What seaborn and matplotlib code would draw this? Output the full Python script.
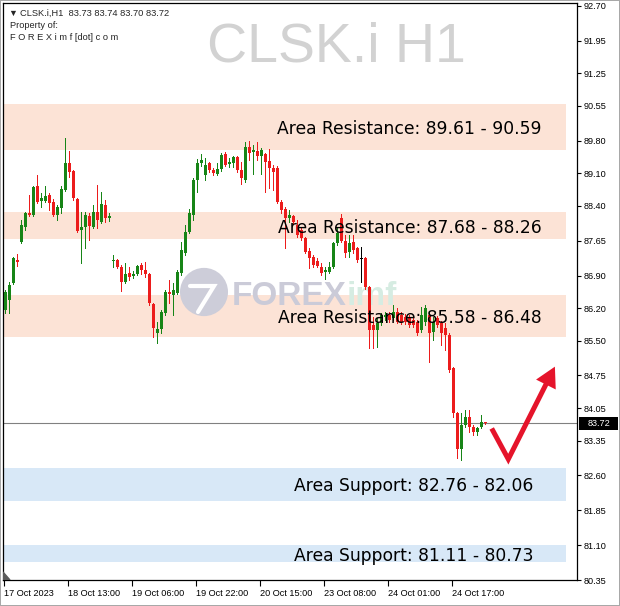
#!/usr/bin/env python3

import matplotlib

matplotlib.use("Agg")
import matplotlib.pyplot as plt
import matplotlib.transforms as mtransforms
import pandas
import seaborn as sns
from matplotlib.patches import Circle, Rectangle

symbol = "CLSK.i"
timeframe = "H1"
last_bar = [83.73, 83.74, 83.70, 83.72]
bid = 83.72

# hourly candles, oldest first
opens = [
    86.16, 86.37, 86.74, 87.24, 87.62, 87.95, 88.25, 88.20, 88.83, 88.51,
    88.51, 88.63, 88.48, 88.20, 88.35, 88.74, 89.32, 89.15, 88.55, 87.88,
    87.95, 88.18, 87.95, 88.27, 88.05, 88.42, 88.14, 87.22, 87.24, 87.09,
    86.76, 86.96, 86.89, 86.93, 87.13, 87.02, 86.93, 86.29, 85.66, 85.75,
    86.10, 86.55, 86.48, 86.53, 86.96, 87.39, 87.84, 88.20, 88.96, 89.32,
    89.06, 89.32, 89.17, 89.09, 89.19, 89.52, 89.30, 89.32, 89.45, 89.17,
    88.96, 89.67, 89.56, 89.58, 89.47, 89.52, 89.37, 89.22, 89.22, 88.48,
    88.33, 88.14, 88.18, 87.99, 87.88, 87.71, 87.43, 87.30, 87.22, 87.09,
    86.98, 86.98, 87.09, 87.60, 88.14, 87.64, 87.41, 87.62, 87.49, 87.26,
    87.28, 86.66, 85.84, 85.73, 85.88, 86.01, 86.05, 85.99, 86.12, 86.05,
    86.01, 85.99, 85.95, 85.90, 85.73, 85.90, 86.05, 85.69, 85.99, 85.88,
    85.77, 85.62, 84.91, 83.94, 83.17, 83.69, 83.86, 83.64, 83.53, 83.64,
    83.73,
]
highs = [
    86.59, 86.76, 87.30, 87.37, 88.10, 88.27, 88.63, 88.83, 89.07, 88.68,
    88.83, 88.68, 88.55, 88.42, 88.83, 89.86, 89.58, 89.17, 88.57, 88.27,
    88.27, 88.25, 88.42, 88.85, 88.70, 88.53, 88.25, 87.34, 87.26, 87.13,
    87.17, 87.09, 87.00, 87.13, 87.17, 87.19, 86.96, 86.31, 85.90, 86.16,
    86.59, 86.81, 86.74, 87.02, 87.62, 87.99, 88.33, 89.00, 89.41, 89.52,
    89.43, 89.34, 89.22, 89.32, 89.54, 89.56, 89.43, 89.47, 89.47, 89.34,
    89.77, 89.80, 89.71, 89.77, 89.64, 89.54, 89.62, 89.28, 89.26, 88.53,
    88.38, 88.31, 88.20, 88.10, 87.92, 87.73, 87.49, 87.34, 87.28, 87.17,
    87.09, 87.19, 87.62, 87.92, 88.23, 87.77, 87.77, 87.77, 87.51, 87.51,
    87.30, 86.68, 86.01, 85.99, 86.10, 86.12, 86.12, 86.27, 86.20, 86.12,
    86.07, 86.05, 86.01, 85.95, 86.22, 86.27, 86.10, 86.01, 86.03, 85.92,
    85.88, 85.66, 84.93, 83.97, 83.94, 84.01, 84.01, 83.69, 83.64, 83.90,
    83.74,
]
lows = [
    86.10, 86.10, 86.72, 87.11, 87.60, 87.88, 88.18, 88.18, 88.46, 88.38,
    88.48, 88.31, 88.18, 88.10, 88.25, 88.72, 89.02, 88.53, 87.84, 87.17,
    87.49, 87.67, 87.92, 87.92, 88.03, 88.05, 88.08, 87.09, 87.06, 86.57,
    86.74, 86.81, 86.85, 86.91, 86.93, 86.87, 86.27, 85.58, 85.45, 85.66,
    86.05, 86.31, 86.05, 86.50, 86.91, 87.34, 87.82, 88.10, 88.70, 89.26,
    88.96, 89.13, 89.06, 89.06, 89.15, 89.26, 89.24, 89.24, 89.13, 88.87,
    88.91, 89.39, 89.09, 89.39, 89.09, 88.70, 88.78, 88.74, 88.46, 88.25,
    87.49, 88.05, 88.01, 87.73, 87.67, 87.39, 87.06, 87.09, 87.09, 86.91,
    86.83, 86.96, 87.06, 87.56, 87.62, 87.30, 87.30, 87.39, 87.19, 86.76,
    86.61, 85.34, 85.34, 85.36, 85.84, 85.95, 85.90, 85.95, 85.88, 85.86,
    85.86, 85.79, 85.79, 85.62, 85.69, 85.84, 85.04, 85.51, 85.79, 85.41,
    85.30, 84.83, 83.86, 82.98, 82.93, 83.64, 83.53, 83.47, 83.47, 83.62,
    83.70,
]
closes = [
    86.55, 86.70, 87.28, 87.19, 87.99, 88.25, 88.20, 88.81, 88.48, 88.57,
    88.61, 88.46, 88.20, 88.38, 88.76, 89.32, 89.13, 88.57, 87.86, 87.95,
    88.20, 87.97, 88.27, 88.10, 88.44, 88.14, 88.18, 87.24, 87.09, 86.76,
    86.93, 86.87, 86.93, 87.11, 87.02, 86.93, 86.31, 85.77, 85.75, 86.12,
    86.55, 86.50, 86.59, 86.98, 87.45, 87.84, 88.25, 88.96, 89.32, 89.39,
    89.28, 89.17, 89.11, 89.19, 89.49, 89.28, 89.34, 89.45, 89.17, 89.00,
    89.67, 89.54, 89.60, 89.47, 89.60, 89.34, 89.22, 89.13, 88.48, 88.31,
    88.14, 88.20, 88.05, 87.77, 87.71, 87.41, 87.28, 87.13, 87.11, 86.96,
    87.02, 87.09, 87.60, 87.82, 87.64, 87.39, 87.60, 87.45, 87.24, 87.26,
    86.66, 85.73, 85.73, 85.88, 86.05, 86.05, 85.95, 86.12, 85.90, 85.90,
    85.90, 85.84, 85.84, 85.66, 86.05, 86.20, 85.66, 85.90, 85.84, 85.66,
    85.62, 84.87, 83.94, 83.17, 83.69, 83.86, 83.64, 83.53, 83.62, 83.75,
    83.72,
]

price_ticks = [
    92.70, 91.95, 91.25, 90.55, 89.80, 89.10, 88.40, 87.65, 86.90,
    86.20, 85.50, 84.75, 84.05, 83.35, 82.60, 81.85, 81.10, 80.35,
]
time_tick_bars = [0, 16, 32, 48, 64, 80, 96, 112]
time_tick_labels = [
    "17 Oct 2023", "18 Oct 13:00", "19 Oct 06:00", "19 Oct 22:00",
    "20 Oct 15:00", "23 Oct 08:00", "24 Oct 01:00", "24 Oct 17:00",
]

zone_low = [89.61, 87.68, 85.58, 82.06, 80.73]
zone_high = [90.59, 88.26, 86.48, 82.76, 81.11]
zone_kind = ["resistance", "resistance", "resistance", "support", "support"]
zone_labels = [
    "Area Resistance: 89.61 - 90.59",
    "Area Resistance: 87.68 - 88.26",
    "Area Resistance: 85.58 - 86.48",
    "Area Support: 82.76 - 82.06",
    "Area Support: 81.11 - 80.73",
]

# hand drawn check mark: start, bottom, end of shaft, arrow tip (bar, price)
check_x = [121.6, 125.75, 136.05, 137.4]
check_y = [83.61, 82.95, 84.71, 84.94]

W, H = 620, 606
PX_PER_PRICE = 46.48
GREEN = "#178517"
RED = "#ec1c1c"
ZONE_COLORS = {"resistance": "#fce3d6", "support": "#d8e8f7"}
SMALL = 6.6


def px(x, y):
    """
    Pixel position in the picture -> axes fraction
    """
    return (x - 3) / 574, 1 - (y - 3) / 577


def main():
    sns.set_theme(style="white")
    plt.rcParams["font.family"] = ["Liberation Sans", "DejaVu Sans"]

    df = pandas.DataFrame(
        {"open": opens, "high": highs, "low": lows, "close": closes}
    )
    df["bar"] = range(len(df))
    df["colour"] = [
        GREEN if c > o else (RED if c < o else "black")
        for o, c in zip(df.open, df.close)
    ]
    df["bottom"] = df[["open", "close"]].min(axis=1)
    df["body"] = (df.close - df.open).abs().clip(lower=0.022)

    fig = plt.figure(figsize=(W / 100, H / 100), dpi=100)
    fig.patch.set_facecolor("white")
    fig.patch.set_edgecolor("#a8a8a8")
    fig.patch.set_linewidth(1.2)
    ax = fig.add_axes([3 / W, 26 / H, 574 / W, 577 / H])
    ax.set_facecolor("white")

    # zones in the background
    for lo, hi, kind, label in zip(zone_low, zone_high, zone_kind, zone_labels):
        ax.axhspan(lo, hi, xmin=0, xmax=0.981, color=ZONE_COLORS[kind], lw=0, zorder=0.5)
        right = 134 if kind == "resistance" else 132
        ax.text(
            right, (lo + hi) / 2, label, ha="right", va="center_baseline",
            fontsize=12.3, family=["DejaVu Sans"], color="black", zorder=6,
        )

    # watermarks
    ax.text(*px(336, 42), f"{symbol} {timeframe}", transform=ax.transAxes,
            ha="center", va="center_baseline", fontsize=40, color="#d2d2d2", zorder=1)
    cx, cy = px(204, 292)
    ax.add_patch(Circle((cx, cy), 24 / 574, transform=ax.transAxes,
                        fc="#cdcdd9", ec="none", zorder=1))
    sx, sy = zip(px(190, 286), px(214, 286), px(198, 312))
    ax.plot(sx, sy, transform=ax.transAxes, color="white", lw=3, zorder=1.1,
            solid_joinstyle="miter")
    ax.text(*px(232, 293), "FOREX", transform=ax.transAxes, ha="left",
            va="center_baseline", fontsize=24, weight="bold", color="#cbcbd8", zorder=1)
    ax.text(*px(347, 293), "imf", transform=ax.transAxes, ha="left",
            va="center_baseline", fontsize=24, weight="bold", color="#d6ece2", zorder=1)

    # candles
    ax.vlines(df.bar, df.low, df.high, colors=df.colour, lw=0.72, zorder=3,
              antialiased=False)
    ax.bar(df.bar, df.body, bottom=df.bottom, width=0.75, color=df.colour,
           lw=0, zorder=3.5, antialiased=False)

    # bid line and its label on the price scale
    ax.axhline(bid, color="#808080", lw=0.8, zorder=2)
    blend = mtransforms.blended_transform_factory(ax.transAxes, ax.transData)
    half = 6.5 / PX_PER_PRICE
    ax.add_patch(Rectangle((1.0 + 2 / 574, bid - half), 39 / 574, 2 * half,
                           transform=blend, fc="black", ec="none",
                           clip_on=False, zorder=7))
    ax.text(1.0 + 21.5 / 574, bid, f"{bid:.2f}", transform=blend,
            ha="center", va="center", fontsize=SMALL, color="white",
            clip_on=False, zorder=8)

    # check mark arrow
    ax.plot(check_x[:3], check_y[:3], color="#e5142b", lw=3.6, zorder=5,
            solid_joinstyle="miter", solid_capstyle="butt")
    ax.annotate(
        "", xy=(check_x[3], check_y[3]), xytext=(check_x[1], check_y[1]),
        arrowprops=dict(arrowstyle="-|>,head_length=0.4,head_width=0.22",
                        mutation_scale=36, color="#e5142b", lw=0,
                        shrinkA=0, shrinkB=0),
        zorder=5,
    )

    # small shift marker in the corner
    ax.fill([0, 0, 7 / 574], [0, 8 / 577, 0], transform=ax.transAxes,
            color="#5a5a5a", zorder=4)

    ax.set_xlim(-0.575, 142.925)
    ax.set_ylim(80.35, 80.35 + 577 / PX_PER_PRICE)

    ax.yaxis.tick_right()
    ax.set_yticks(price_ticks)
    ax.set_yticklabels([f"{p:.2f}" for p in price_ticks])
    ax.tick_params(axis="y", which="major", direction="out", length=3, width=0.8,
                   pad=2, labelsize=SMALL, colors="black", right=True, left=False)
    ax.set_xticks([b - 0.4 for b in time_tick_bars])
    ax.set_xticklabels(time_tick_labels, ha="left")
    ax.tick_params(axis="x", which="major", direction="out", length=4, width=0.8,
                   pad=2.5, labelsize=SMALL, colors="black", bottom=True)
    for spine in ax.spines.values():
        spine.set_color("black")
        spine.set_linewidth(0.9)
        spine.set_visible(True)

    # header in the top left corner
    fig.text(8.5 / W, 1 - 13 / H, "▼", fontsize=6.5, va="center", ha="left")
    fig.text(20.5 / W, 1 - 13 / H,
             f"{symbol},{timeframe}  " + " ".join(f"{v:.2f}" for v in last_bar),
             fontsize=6.7, va="center", ha="left")
    fig.text(10 / W, 1 - 26 / H, "Property of:", fontsize=6.7, va="center", ha="left")
    fig.text(10 / W, 1 - 38 / H, "F O R E X i m f [dot] c o m", fontsize=6.7,
             va="center", ha="left")

    fig.savefig("out.png", dpi=100, facecolor="white", edgecolor=fig.get_edgecolor())
    plt.close(fig)


if __name__ == "__main__":
    main()
